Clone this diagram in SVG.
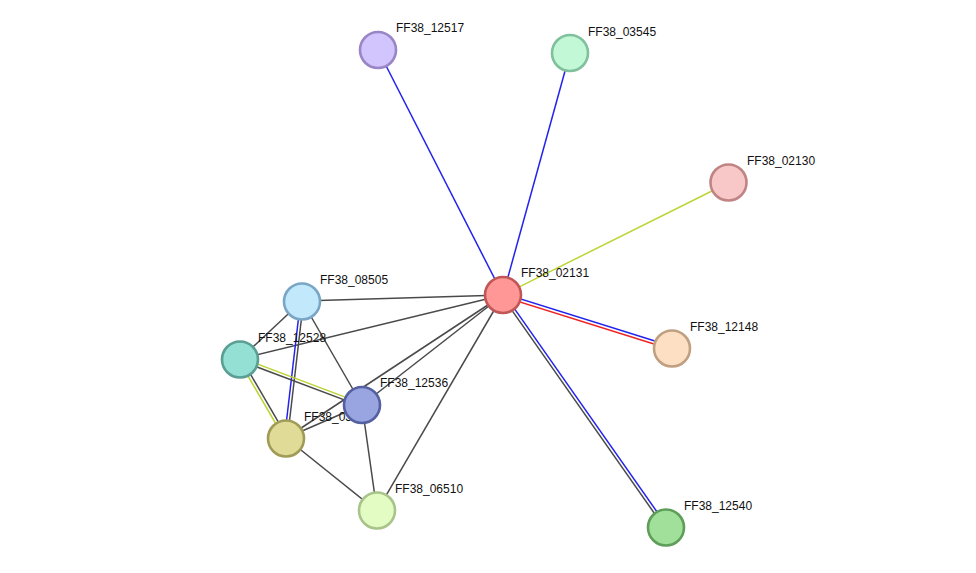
<svg xmlns="http://www.w3.org/2000/svg" width="976" height="573" viewBox="0 0 976 573">
<style>
.e{stroke-width:1.5;fill:none}
.g{stroke:#4a4a4a}
.b{stroke:#2222ee}
.r{stroke:#ee2222}
.y{stroke:#bcd433}
.n{stroke-width:2.6}
text{font-family:"Liberation Sans",Arial,sans-serif;font-size:12px;fill:#111}
</style>
<rect width="976" height="573" fill="#fff"/>
<g id="edges">
<line class="e b" x1="503" y1="295" x2="378" y2="50"/>
<line class="e b" x1="503" y1="295" x2="570" y2="53"/>
<line class="e y" x1="503" y1="295" x2="728" y2="183"/>
<line class="e b" x1="503.5" y1="293.5" x2="672.5" y2="346.5"/>
<line class="e r" x1="502.5" y1="296.5" x2="671.5" y2="349.5"/>
<line class="e g" x1="501.8" y1="295.9" x2="664.8" y2="528.2"/>
<line class="e b" x1="504.2" y1="294.1" x2="667.2" y2="526.4"/>
<line class="e g" x1="503" y1="295" x2="302" y2="301"/>
<line class="e g" x1="503" y1="295" x2="240" y2="359"/>
<line class="e g" x1="503" y1="295" x2="362" y2="405"/>
<line class="e g" x1="503" y1="295" x2="286" y2="438"/>
<line class="e g" x1="503" y1="295" x2="377" y2="511"/>
<line class="e g" x1="302" y1="301" x2="240" y2="359"/>
<line class="e g" x1="302" y1="301" x2="362" y2="405"/>
<line class="e b" x1="300.5" y1="301" x2="284.5" y2="438"/>
<line class="e g" x1="303.5" y1="301" x2="287.5" y2="438"/>
<line class="e y" x1="240.5" y1="357.6" x2="362.5" y2="403.6"/>
<line class="e g" x1="239.5" y1="360.4" x2="361.5" y2="406.4"/>
<line class="e y" x1="238.7" y1="360" x2="284.7" y2="439"/>
<line class="e g" x1="241.3" y1="358.4" x2="287.3" y2="437.4"/>
<line class="e g" x1="362" y1="405" x2="286" y2="438"/>
<line class="e g" x1="362" y1="405" x2="377" y2="511"/>
<line class="e g" x1="286" y1="438" x2="377" y2="511"/>
</g>
<g id="n12517"><circle class="n" cx="378" cy="50" r="18" fill="#d2c4fc" stroke="#9a86c6"/><text x="396" y="32">FF38_12517</text></g>
<g id="n03545"><circle class="n" cx="570" cy="53" r="18" fill="#c2f8d6" stroke="#80c09c"/><text x="588" y="36">FF38_03545</text></g>
<g id="n02130"><circle class="n" cx="728.5" cy="182.5" r="18" fill="#f8c8c8" stroke="#c08484"/><text x="747" y="165">FF38_02130</text></g>
<g id="n12148"><circle class="n" cx="672" cy="348.5" r="18" fill="#fde0c4" stroke="#c0a080"/><text x="690" y="331">FF38_12148</text></g>
<g id="n12540"><circle class="n" cx="666" cy="527.5" r="18" fill="#a0e09a" stroke="#5e9e58"/><text x="684" y="510">FF38_12540</text></g>
<g id="n06510"><circle class="n" cx="377" cy="510.5" r="18" fill="#e2fcc4" stroke="#a8c48a"/><text x="395" y="493">FF38_06510</text></g>
<g id="n08505"><circle class="n" cx="302" cy="301.5" r="18" fill="#c2e8fc" stroke="#7aa6c6"/><text x="320" y="284">FF38_08505</text></g>
<g id="n12528"><circle class="n" cx="240" cy="359.5" r="18" fill="#94e0d4" stroke="#5a9e94"/><text x="258" y="342">FF38_12528</text></g>
<g id="n03xxx"><circle class="n" cx="286" cy="438.5" r="18" fill="#e0dc98" stroke="#a09c58"/><text x="304" y="421">FF38_03</text></g>
<g id="n12536"><circle class="n" cx="362" cy="405" r="18" fill="#99a5e0" stroke="#5560a0"/><text x="380" y="387">FF38_12536</text></g>
<g id="n02131"><circle class="n" cx="503" cy="295" r="18" fill="#ff9797" stroke="#c05656"/><text x="521" y="277">FF38_02131</text></g>
</svg>
